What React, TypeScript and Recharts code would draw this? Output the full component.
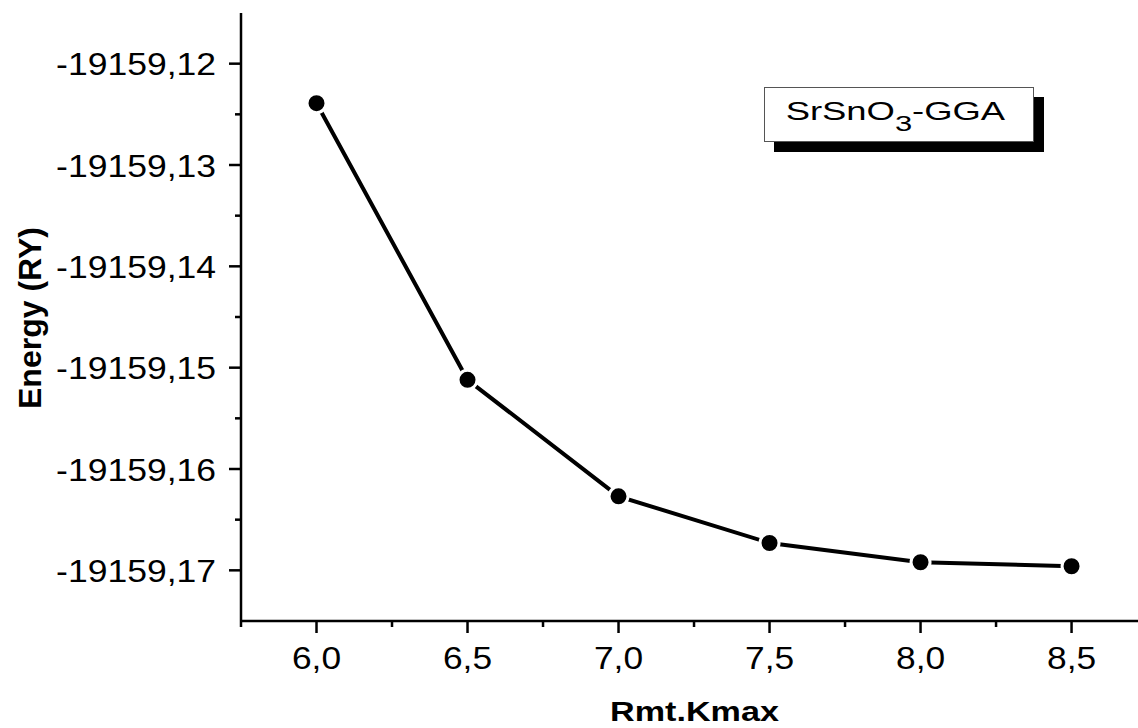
import { Legend, Line, LineChart, XAxis, YAxis } from "recharts";

const rmtKmax = [6.0, 6.5, 7.0, 7.5, 8.0, 8.5];
const energy = [-19159.1239, -19159.1512, -19159.1627, -19159.1673, -19159.1692, -19159.1696];

const xMajorTicks = [6.0, 6.5, 7.0, 7.5, 8.0, 8.5];
const xMinorTicks = [5.75, 6.25, 6.75, 7.25, 7.75, 8.25];
const yMajorTicks = [-19159.12, -19159.13, -19159.14, -19159.15, -19159.16, -19159.17];
const yMinorTicks = [-19159.125, -19159.135, -19159.145, -19159.155, -19159.165];

const data = rmtKmax.map((x, i) => ({ x, energy: energy[i] }));

const font = '"Liberation Sans", Arial, sans-serif';

const isMajor = (list: number[], v: number) => list.some((t) => Math.abs(t - v) < 1e-7);

function XTick(props: any) {
  const { x, y, payload } = props;
  const major = isMajor(xMajorTicks, payload.value);
  return (
    <g>
      <line x1={x} y1={y} x2={x} y2={y + (major ? 12 : 6)} stroke="#000" strokeWidth={2.5} />
      {major && (
        <text
          transform={`translate(${x},${y + 37}) scale(1.14,1)`}
          textAnchor="middle"
          dy="0.36em"
          fontSize={31}
          fontFamily={font}
          fill="#000"
        >
          {payload.value.toFixed(1).replace(".", ",")}
        </text>
      )}
    </g>
  );
}

function YTick(props: any) {
  const { x, y, payload } = props;
  const major = isMajor(yMajorTicks, payload.value);
  return (
    <g>
      <line x1={x - (major ? 12 : 6)} y1={y} x2={x} y2={y} stroke="#000" strokeWidth={2.5} />
      {major && (
        <text
          transform={`translate(${x - 25},${y}) scale(1.11,1)`}
          textAnchor="end"
          dy="0.36em"
          fontSize={32}
          fontFamily={font}
          fill="#000"
        >
          {payload.value.toFixed(2).replace(".", ",")}
        </text>
      )}
    </g>
  );
}

function LegendBox() {
  return (
    <div
      style={{
        width: 268,
        height: 53,
        border: "1px solid #555",
        background: "#fff",
        boxShadow: "10px 10px 0 0 #000",
        display: "flex",
        alignItems: "center",
        justifyContent: "center",
        fontFamily: font,
        fontSize: 26,
        color: "#000",
      }}
    >
      <span style={{ display: "inline-block", transform: "scale(1.4,1)", marginTop: -6, marginLeft: -8 }}>
        SrSnO
        <span style={{ fontSize: "0.85em", position: "relative", top: "0.5em" }}>3</span>
        -GGA
      </span>
    </div>
  );
}

export default function App() {
  return (
    <div style={{ position: "absolute", left: 0, top: 0, width: 1138, height: 728, background: "#fff" }}>
      <LineChart width={1138} height={728} data={data} margin={{ top: 13, right: 0, left: 0, bottom: 0 }}>
        <XAxis
          xAxisId="top"
          orientation="top"
          dataKey="x"
          type="number"
          domain={[5.75, 8.72]}
          height={0}
          tick={false}
          tickLine={false}
          axisLine={{ stroke: "#000", strokeWidth: 2.5 }}
        />
        <XAxis
          dataKey="x"
          type="number"
          domain={[5.75, 8.72]}
          allowDataOverflow
          ticks={[...xMinorTicks, ...xMajorTicks].sort((a, b) => a - b)}
          interval={0}
          tickSize={0}
          tickMargin={0}
          tickLine={false}
          tick={<XTick />}
          height={107}
          axisLine={{ stroke: "#000", strokeWidth: 2.5 }}
          label={{
            content: (p: any) => {
              const vb = p.viewBox;
              return (
                <text
                  transform={`translate(${vb.x + vb.width / 2 + 5},721) scale(1.22,1)`}
                  textAnchor="middle"
                  fontSize={28}
                  fontWeight="bold"
                  fontFamily={font}
                  fill="#000"
                >
                  Rmt.Kmax
                </text>
              );
            },
          }}
        />
        <YAxis
          type="number"
          domain={[-19159.175, -19159.115]}
          allowDataOverflow
          ticks={[...yMajorTicks, ...yMinorTicks].sort((a, b) => a - b)}
          interval={0}
          tickSize={0}
          tickMargin={0}
          tickLine={false}
          tick={<YTick />}
          width={241}
          axisLine={{ stroke: "#000", strokeWidth: 2.5 }}
          label={{
            content: (p: any) => {
              const vb = p.viewBox;
              return (
                <text
                  transform={`translate(41,${vb.y + vb.height / 2 + 1}) rotate(-90)`}
                  textAnchor="middle"
                  fontSize={32}
                  fontWeight="bold"
                  fontFamily={font}
                  fill="#000"
                >
                  Energy (RY)
                </text>
              );
            },
          }}
        />
        <Legend
          layout="horizontal"
          align="center"
          verticalAlign="middle"
          wrapperStyle={{ left: 764, top: 87, width: "auto", height: "auto" }}
          content={() => <LegendBox />}
        />
        <Line
          type="linear"
          dataKey="energy"
          stroke="#000"
          strokeWidth={4}
          dot={{ r: 9.5, fill: "#000", stroke: "#fff", strokeWidth: 3 }}
          activeDot={false}
          isAnimationActive={false}
        />
      </LineChart>
    </div>
  );
}
